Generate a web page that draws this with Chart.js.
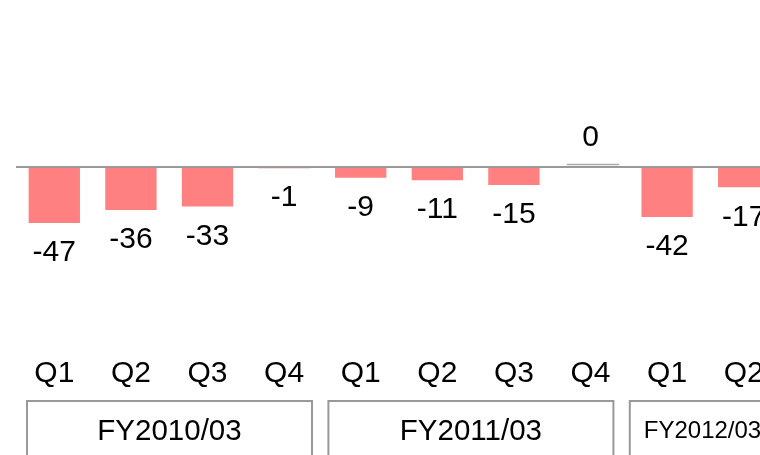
<!DOCTYPE html>
<html>
<head>
<meta charset="utf-8">
<script src="https://cdn.jsdelivr.net/npm/chart.js@4"></script>
<style>
  html, body { margin: 0; padding: 0; background: #fff; overflow: hidden; }
  #wrap { width: 782px; height: 455px; }
</style>
</head>
<body>
<div id="wrap"><canvas id="myChart" width="782" height="455"></canvas></div>
<script>
// quarterly values, three fiscal years (last one cut off at the right)
var quarters = ["Q1", "Q2", "Q3", "Q4", "Q1", "Q2", "Q3", "Q4", "Q1", "Q2"];
var values = [-47, -36, -33, -1, -9, -11, -15, 0, -42, -17];
var fiscalYears = ["FY2010/03", "FY2011/03", "FY2012/03"];
var barColor = "#ff8080";

var FONT = "'Liberation Sans', Arial, sans-serif";

// zero line, value labels, zero-value bar stub
var valuePlugin = {
  id: "valuePlugin",
  afterDatasetsDraw: function(chart) {
    var ctx = chart.ctx;
    var y = chart.scales.y;
    var area = chart.chartArea;
    var y0 = y.getPixelForValue(0);
    ctx.save();
    ctx.strokeStyle = "#999";
    ctx.lineWidth = 2;
    ctx.beginPath();
    ctx.moveTo(area.left, y0);
    ctx.lineTo(chart.width, y0);
    ctx.stroke();

    var meta = chart.getDatasetMeta(0);
    ctx.fillStyle = "#000";
    ctx.font = "30px " + FONT;
    ctx.textAlign = "center";
    ctx.textBaseline = "middle";
    meta.data.forEach(function(bar, i) {
      var v = values[i];
      if (v === 0) {
        ctx.strokeStyle = "#aaa";
        ctx.lineWidth = 1.5;
        ctx.beginPath();
        ctx.moveTo(bar.x - bar.width / 2 + 2, y0 - 2.5);
        ctx.lineTo(bar.x + bar.width / 2 + 3, y0 - 2.5);
        ctx.stroke();
      }
      var ty = v < 0 ? bar.y + 30 : bar.y - 29;
      ctx.fillText(String(v), bar.x, ty);
    });
    ctx.restore();
  }
};

// fiscal year boxes under the quarter labels
var groupPlugin = {
  id: "groupPlugin",
  afterDraw: function(chart) {
    var ctx = chart.ctx;
    var x = chart.scales.x;
    var step = x.getPixelForValue(1) - x.getPixelForValue(0);
    ctx.save();
    ctx.strokeStyle = "#999";
    ctx.lineWidth = 2;
    ctx.fillStyle = "#000";
    ctx.textBaseline = "middle";
    fiscalYears.forEach(function(fy, g) {
      var i0 = g * 4;
      var left = x.getPixelForValue(i0) - step / 2 + 11 - 5 * g;
      var top = 401;
      if (g * 4 + 3 < quarters.length) {
        ctx.strokeRect(left, top, 285, 80);
        ctx.font = "29.5px " + FONT;
        ctx.textAlign = "center";
        ctx.fillText(fy, left + 142.5, 432);
      } else {
        ctx.strokeRect(left, top, chart.width, 80);
        ctx.font = "24px " + FONT;
        ctx.textAlign = "left";
        ctx.fillText(fy, left + 14, 431);
      }
    });
    ctx.restore();
  }
};

new Chart("myChart", {
  type: "bar",
  data: {
    labels: quarters,
    datasets: [{
      data: values,
      backgroundColor: barColor,
      borderWidth: 0,
      categoryPercentage: 1,
      barPercentage: 0.67
    }]
  },
  options: {
    responsive: false,
    animation: false,
    layout: { padding: { left: 16, right: 0, top: 0, bottom: 0 } },
    plugins: {
      legend: { display: false },
      tooltip: { enabled: false }
    },
    scales: {
      x: {
        grid: { display: false },
        border: { display: false },
        ticks: {
          color: "#000",
          font: { family: FONT, size: 30 },
          padding: 8,
          maxRotation: 0,
          autoSkip: false
        },
        afterFit: function(s) { s.height = 115; }
      },
      y: {
        display: false,
        min: -145,
        max: 140
      }
    }
  },
  plugins: [valuePlugin, groupPlugin]
});
</script>
</body>
</html>
